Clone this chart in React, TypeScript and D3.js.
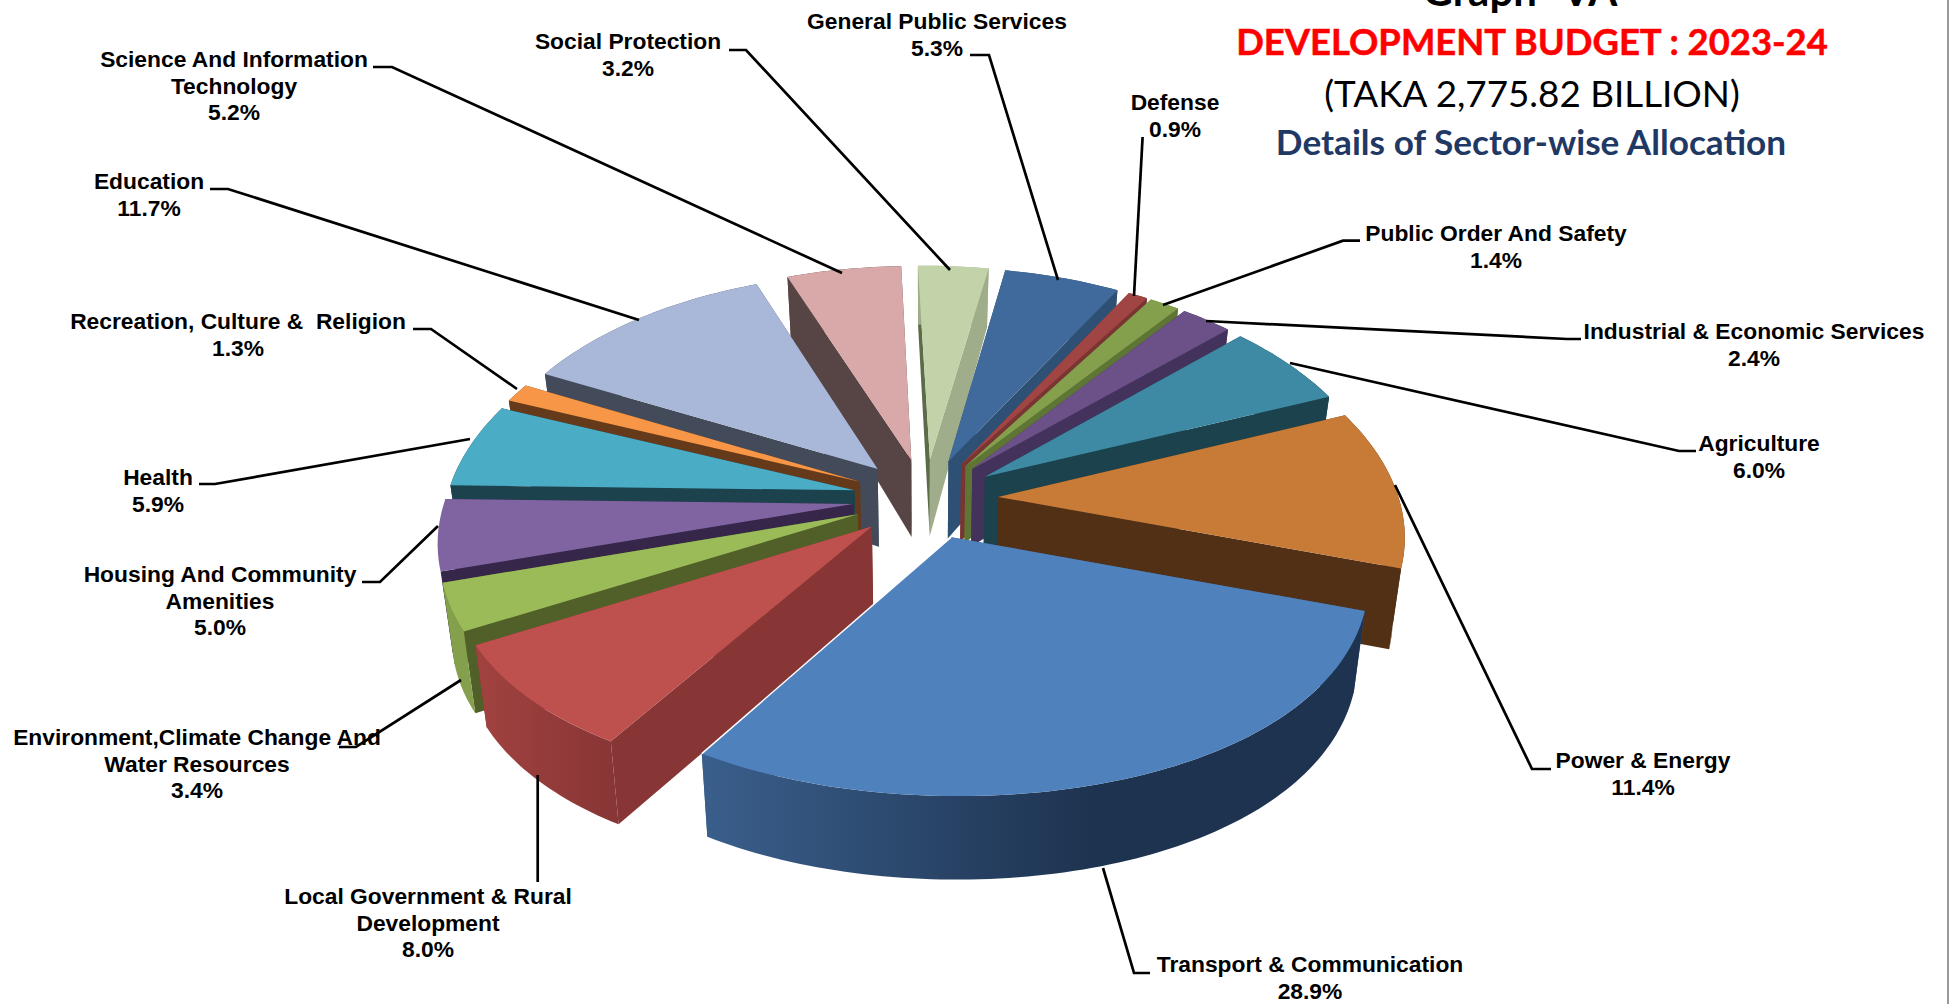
import React from "react";
import * as d3 from "d3";

const sectors = ["General Public Services","Defense","Public Order And Safety","Industrial & Economic Services","Agriculture","Power & Energy","Transport & Communication","Local Government & Rural Development","Environment,Climate Change And Water Resources","Housing And Community Amenities","Health","Recreation, Culture &  Religion","Education","Science And Information Technology","Social Protection"];
const shares = [5.3,0.9,1.4,2.4,6.0,11.4,28.9,8.0,3.4,5.0,5.9,1.3,11.7,5.2,3.2];

const topColors = ["#3F6A9B","#A04543","#84A04C","#6C5188","#3E8AA4","#C87A37","#4F81BD","#BE504D","#9BBB59","#8064A2","#4BACC6","#F79646","#A9B8D8","#D9A9A9","#C3D3A9"];
const startWallColors = ["#2E5075","#7A3533","#5F7535","#43335C","#1C424D","#523016","#3A5F8C","#873535","#516028","#36264A","#1C424D","#653A1A","#434A5A","#574444","#5C6B48"];
const endWallColors = ["#2E5075","#7A3533","#5F7535","#43335C","#1C424D","#523016","#3A5F8C","#873535","#516028","#36264A","#1C424D","#653A1A","#434A5A","#574444","#A0AD8A"];
const outerColors = ["#2E5075","#7A3533","#5F7535","#43335C","#1C424D","#523016","url(#gT)","url(#gR)","#84A04D","none","#1C424D","#653A1A","#434A5A","#574444","#A0AD8A"];

// label layout: centre x, centre y of each line, text lines
const labelX = [937,1175,1496,1754,1759,1643,1310,428,197,220,158,238,149,234,628];
const labelY = [22,103,234,332,444,761,965,897,738,575,478,322,182,60,42];
const labelLines = [
  ["General Public Services","5.3%"],["Defense","0.9%"],["Public Order And Safety","1.4%"],["Industrial & Economic Services","2.4%"],["Agriculture","6.0%"],["Power & Energy","11.4%"],["Transport & Communication","28.9%"],["Local Government & Rural","Development","8.0%"],["Environment,Climate Change And","Water Resources","3.4%"],["Housing And Community","Amenities","5.0%"],["Health","5.9%"],["Recreation, Culture &  Religion","1.3%"],["Education","11.7%"],["Science And Information","Technology","5.2%"],["Social Protection","3.2%"],
];
const leaders: number[][][] = [
  [[970,55],[989,55],[1058,280]],
  [[1142.6,137],[1134,296]],
  [[1360,240.7],[1343,240.7],[1163,305]],
  [[1581,339],[1567,339],[1206,321]],
  [[1696,451],[1679,451],[1290,363]],
  [[1551,769],[1532,769],[1395,485]],
  [[1150,973],[1134,973],[1103,868]],
  [[537.7,882],[537.7,775]],
  [[339,747],[356,747],[461,680]],
  [[362,582],[380,582],[438,526]],
  [[199,484],[215,484],[470,439]],
  [[413,329],[431,329],[517,389]],
  [[210,189],[228,189],[639,320]],
  [[373,67],[392,67],[842,273]],
  [[729,50],[746,50],[950,270]],
];

const START_DEG = 7, EXPLODE = 0.18;
const CX = 923, CY = 496, RX = 387, RY = 230, KX = 0.2, KY = 0.1, BOTTOM_SCALE = 0.975;
const depth = (Y: number) => (Y > 0 ? 80 - 18 * Y : 80 - 3 * Y);
const project = (X: number, Y: number, bottom = false): [number, number] => {
  const x = CX + (RX * X) / (1 + KX * Y) + 17 * X + 16 * Y + 19 * X * Y + 2.5;
  const y = CY - (RY * Y) / (1 + KY * Y) + 10 * X + (Y > 0 ? 8.7 : 6) * Y + 2.5;
  return bottom ? [CX + (x - CX) * BOTTOM_SCALE, y + depth(Y)] : [x, y];
};
const pct = (v: number) => v;
const pie = d3.pie<number>().sort(null).value(pct)
  .startAngle((START_DEG * Math.PI) / 180)
  .endAngle(((START_DEG + 360) * Math.PI) / 180);
const line = d3.line();

export default function App() {
  const arcs = pie(shares).map((a, i) => ({ ...a, i }));
  const dist = (a: any) => {
    const m = (((a.startAngle + a.endAngle) / 2) * 180) / Math.PI;
    return Math.abs(((m % 360) + 360) % 360 - 180);
  };
  const ordered = [...arcs].sort((a, b) => dist(b) - dist(a));
  return (
    <svg width={1950} height={1004} style={{ position: "absolute", left: 0, top: 0, background: "#fff" }}>
      <defs>
        <linearGradient id="gT" gradientUnits="userSpaceOnUse" x1={702} x2={1090} y1={0} y2={0}>
          <stop offset="0" stopColor="#3A5F8C" /><stop offset="1" stopColor="#1E3350" />
        </linearGradient>
        <linearGradient id="gR" gradientUnits="userSpaceOnUse" x1={480} x2={620} y1={0} y2={0}>
          <stop offset="0" stopColor="#A04240" /><stop offset="1" stopColor="#873535" />
        </linearGradient>
      </defs>
      {ordered.map((a) => {
        const i = a.i;
        const mid = (a.startAngle + a.endAngle) / 2;
        const ox = EXPLODE * Math.sin(mid), oy = EXPLODE * Math.cos(mid);
        const n = Math.max(4, Math.ceil((a.endAngle - a.startAngle) / 0.02));
        const angles = d3.range(n + 1).map((k) => a.startAngle + ((a.endAngle - a.startAngle) * k) / n);
        const rim = angles.map((t) => [ox + Math.sin(t), oy + Math.cos(t)]);
        const topRim = rim.map((p) => project(p[0], p[1]));
        const botRim = rim.map((p) => project(p[0], p[1], true));
        const apexT = project(ox, oy), apexB = project(ox, oy, true);
        const last = rim.length - 1;
        const startWall = [apexT, topRim[0], botRim[0], apexB] as [number, number][];
        const endWall = [apexT, topRim[last], botRim[last], apexB] as [number, number][];
        const outer = [...topRim, ...[...botRim].reverse()] as [number, number][];
        return (
          <g key={sectors[i]}>
            <path d={line(startWall) + "Z"} fill={startWallColors[i]} />
            <path d={line(endWall) + "Z"} fill={endWallColors[i]} />
            <path d={line(outer) + "Z"} fill={outerColors[i]} />
            <path d={line([apexT, ...topRim] as [number, number][]) + "Z"} fill={topColors[i]} />
            {sectors[i].startsWith("Transport") && (
              <path d={line([apexT, topRim[last]] as [number, number][]) || ""} stroke="#fff" strokeWidth={1.5} />
            )}
          </g>
        );
      })}
      {leaders.map((pts, i) => (
        <path key={i} d={line(pts as [number, number][]) || ""} fill="none" stroke="#000" strokeWidth={2.7} />
      ))}
      {labelLines.map((lines, i) => (
        <text key={i} textAnchor="middle" fontFamily="'Liberation Sans'" fontWeight="bold" fontSize={22.8} fill="#000">
          {lines.map((t, j) => (
            <tspan key={j} x={labelX[i]} y={labelY[i] + j * 26.5 + 7} xmlSpace="preserve">{t}</tspan>
          ))}
        </text>
      ))}
      <g textAnchor="middle" fontFamily="Lato">
        <text x={1520} y={6} fontSize={42} fontWeight="bold" fill="#000">Graph -VA</text>
        <text x={1532} y={55} fontSize={36.4} fontWeight="bold" fill="#FF0000" stroke="#FF0000" strokeWidth={0.5}>DEVELOPMENT BUDGET : 2023-24</text>
        <text x={1532} y={107} fontSize={36.8} fill="#000">(TAKA 2,775.82 BILLION)</text>
        <text x={1531} y={155} fontSize={35.2} fontWeight="bold" fill="#1F3864">Details of Sector-wise Allocation</text>
      </g>
      <rect x={1947} y={0} width={2} height={1004} fill="#999" />
    </svg>
  );
}
